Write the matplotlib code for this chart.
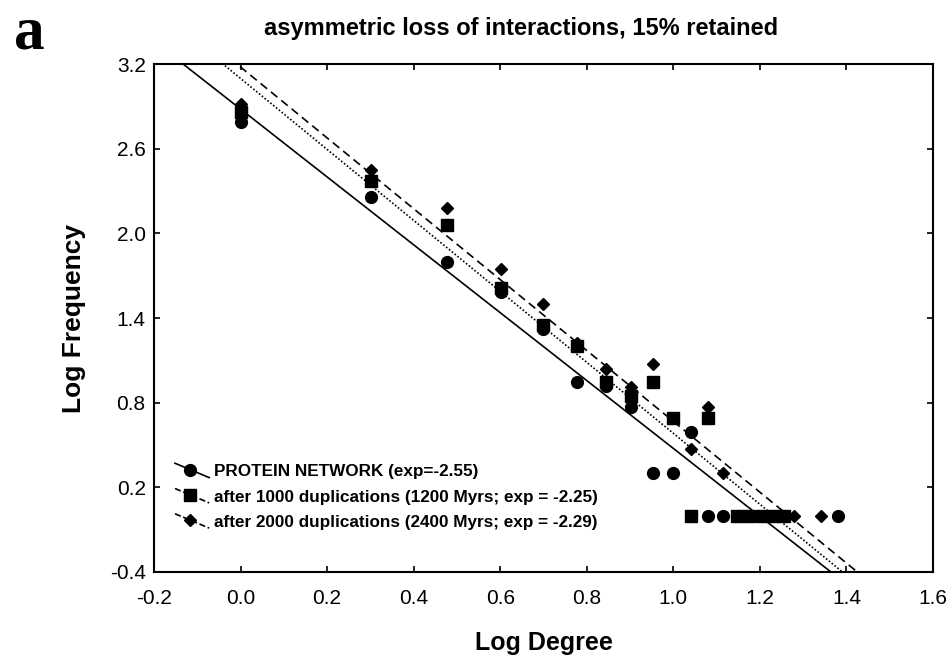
import numpy as np
import matplotlib
matplotlib.use("Agg")
import matplotlib.pyplot as plt
from matplotlib.lines import Line2D
from matplotlib.legend_handler import HandlerBase

plt.rcParams['font.family'] = ['Liberation Sans', 'DejaVu Sans']

# log degree / log frequency
deg_protein = [0.0, 0.301, 0.477, 0.602, 0.699, 0.778, 0.845, 0.903, 0.954, 1.0, 1.041, 1.079, 1.114, 1.380]
freq_protein = [2.79, 2.26, 1.80, 1.585, 1.32, 0.945, 0.915, 0.77, 0.30, 0.30, 0.59, 0.0, 0.0, 0.0]

deg_1000 = [0.0, 0.301, 0.477, 0.602, 0.699, 0.778, 0.845, 0.903, 0.954, 1.0, 1.041, 1.079,
            1.146, 1.176, 1.204, 1.230, 1.255]
freq_1000 = [2.86, 2.37, 2.06, 1.61, 1.35, 1.20, 0.95, 0.85, 0.945, 0.69, 0.0, 0.69,
             0.0, 0.0, 0.0, 0.0, 0.0]

deg_2000 = [0.0, 0.301, 0.477, 0.602, 0.699, 0.778, 0.845, 0.903, 0.954, 1.041, 1.079, 1.114, 1.279, 1.342]
freq_2000 = [2.92, 2.45, 2.18, 1.745, 1.50, 1.22, 1.04, 0.91, 1.075, 0.475, 0.77, 0.30, 0.0, 0.0]

# fitted lines (intercept, slope) as drawn
fit_intercept = [2.882, 3.180, 3.099]
fit_slope = [-2.406, -2.512, -2.516]

labels = ['PROTEIN NETWORK (exp=-2.55)',
          'after 1000 duplications (1200 Myrs; exp = -2.25)',
          'after 2000 duplications (2400 Myrs; exp = -2.29)']


class DiagHandler(HandlerBase):
    # legend sample: short slanted line with the marker on it
    def create_artists(self, legend, orig, xdescent, ydescent, width, height, fontsize, trans):
        x0, y0 = -xdescent, -ydescent
        ln = Line2D([x0, x0 + width], [y0 + height * 1.1, y0 - height * 0.1],
                    color='black', lw=orig.get_linewidth(), linestyle=orig.get_linestyle(),
                    transform=trans)
        mk = Line2D([x0 + width * 0.45], [y0 + height * 0.55], marker=orig.get_marker(),
                    ms=orig.get_markersize(), color='black', ls='none', transform=trans)
        return [ln, mk]


fig = plt.figure(figsize=(9.53, 6.62), dpi=100)
ax = fig.add_axes([0.1616, 0.136, 0.8174, 0.767])

xx = np.array([-0.2, 1.6])
styles = ['-', (0, (5, 3)), (0, (1, 1.2))]
markers = ['o', 's', 'D']
msizes = [8.5, 8.5, 6.5]
datasets = [(deg_protein, freq_protein), (deg_1000, freq_1000), (deg_2000, freq_2000)]

handles = []
for i, (dx, dy) in enumerate(datasets):
    ax.plot(xx, fit_intercept[i] + fit_slope[i] * xx, color='black', lw=1.2, ls=styles[i])
    ax.plot(dx, dy, ls='none', marker=markers[i], ms=msizes[i], color='black', clip_on=False)
    handles.append(Line2D([], [], color='black', lw=1.2, ls=styles[i], marker=markers[i], ms=msizes[i]))

ax.set_xlim(-0.2, 1.6)
ax.set_ylim(-0.4, 3.2)
xt = np.arange(-0.2, 1.61, 0.2)
yt = np.arange(-0.4, 3.21, 0.6)
ax.set_xticks(xt)
ax.set_yticks(yt)
ax.set_xticklabels(['%.1f' % v for v in xt])
ax.set_yticklabels(['%.1f' % v for v in yt])
ax.tick_params(direction='in', top=True, right=True, length=4, width=1.2, labelsize=15)
ax.tick_params(axis='x', pad=12)
ax.tick_params(axis='y', pad=6)
for s in ax.spines.values():
    s.set_linewidth(1.5)

ax.set_xlabel('Log Degree', fontsize=18, fontweight='bold', labelpad=17)
ax.set_ylabel('Log Frequency', fontsize=19, fontweight='bold', labelpad=17)

leg = ax.legend(handles, labels, loc='lower left', bbox_to_anchor=(0.016, 0.066),
                frameon=False, handler_map={Line2D: DiagHandler()}, handlelength=2.0,
                handletextpad=0.3, labelspacing=0.6, borderpad=0,
                prop={'weight': 'bold', 'size': 12.3})

fig.text(0.547, 0.957, 'asymmetric loss of interactions, 15% retained',
         ha='center', va='center', fontsize=17, fontweight='bold')
fig.text(0.031, 0.95, 'a', ha='center', va='center', fontsize=44, fontweight='bold',
         family=['Liberation Serif', 'DejaVu Serif'])

fig.savefig('out.png', dpi=100)
